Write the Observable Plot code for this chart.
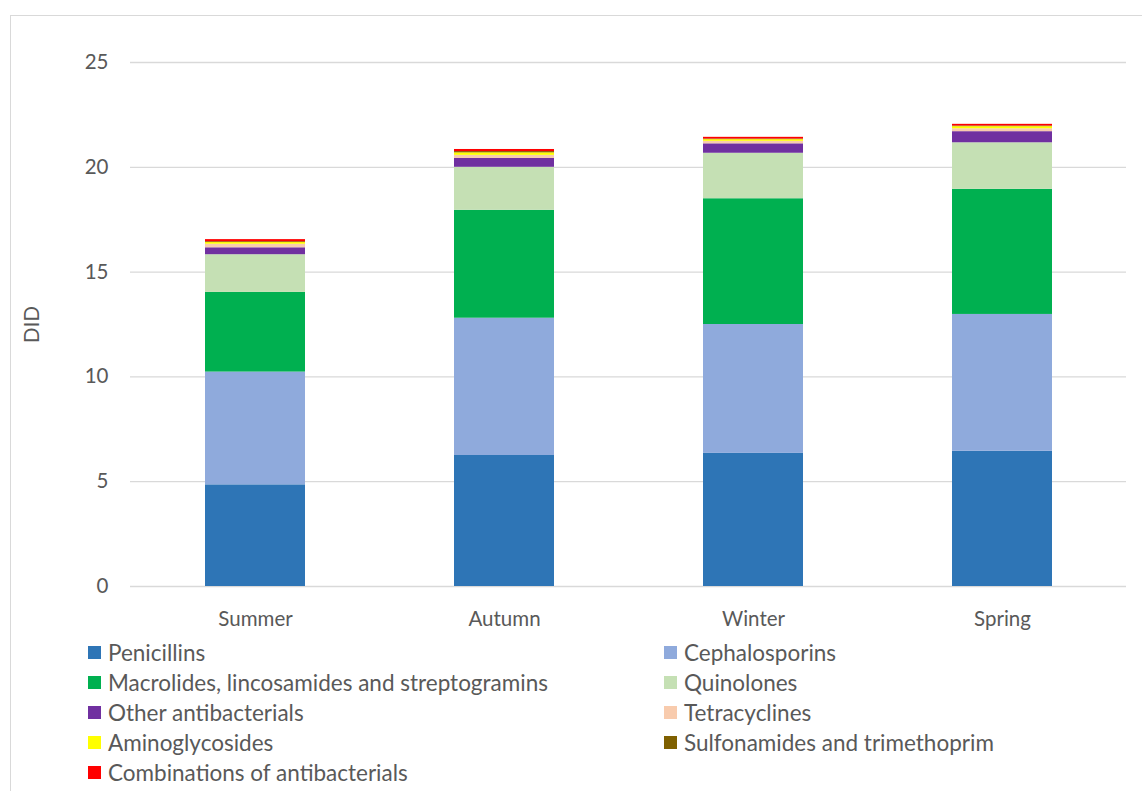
<!DOCTYPE html>
<html>
<head>
<meta charset="utf-8">
<script src="https://cdn.jsdelivr.net/npm/d3@7"></script>
<script src="https://cdn.jsdelivr.net/npm/@observablehq/plot@0.6"></script>
<style>
  html, body { margin: 0; padding: 0; background: #fff; }
  body { width: 1142px; height: 791px; position: relative; overflow: hidden; font-family: Lato, "Open Sans", sans-serif; }
  #frame { position: absolute; left: 10px; top: 15px; width: 1160px; height: 800px; border: 1px solid #d9d9d9; box-sizing: border-box; }
  #chart { position: absolute; left: 0; top: 0; }
  #legend { position: absolute; left: 88px; top: 637px; display: grid; grid-template-columns: 576px 420px; row-gap: 0; }
  .item { display: flex; align-items: center; height: 30px; font-size: 22.5px; color: #595959; white-space: nowrap; }
  .sw { width: 13px; height: 13px; margin-right: 7px; flex: none; }
</style>
</head>
<body>
<div id="frame"></div>
<div id="chart"></div>
<div id="legend"></div>
<script>
const seasons = ["Summer", "Autumn", "Winter", "Spring"];
const classes = [
  "Penicillins",
  "Cephalosporins",
  "Macrolides, lincosamides and streptogramins",
  "Quinolones",
  "Other antibacterials",
  "Tetracyclines",
  "Aminoglycosides",
  "Sulfonamides and trimethoprim",
  "Combinations of antibacterials"
];
const colors = ["#2E75B6", "#8FAADC", "#00B050", "#C5E0B4", "#7030A0", "#F8CBAD", "#FFFF00", "#7F6000", "#FF0000"];

const penicillins     = [4.85, 6.25, 6.35, 6.45];
const cephalosporins  = [5.38, 6.55, 6.15, 6.53];
const macrolides      = [3.80, 5.15, 6.00, 5.97];
const quinolones      = [1.80, 2.05, 2.17, 2.22];
const otherAntibact   = [0.33, 0.42, 0.45, 0.53];
const tetracyclines   = [0.17, 0.15, 0.12, 0.14];
const aminoglycosides = [0.08, 0.12, 0.08, 0.10];
const sulfonamides    = [0.04, 0.06, 0.03, 0.03];
const combinations    = [0.10, 0.10, 0.08, 0.08];
const yTicks = [0, 5, 10, 15, 20, 25];

const series = [penicillins, cephalosporins, macrolides, quinolones, otherAntibact,
                tetracyclines, aminoglycosides, sulfonamides, combinations];
const rows = [];
classes.forEach((c, i) => seasons.forEach((s, j) => rows.push({season: s, cls: c, value: series[i][j]})));

const chart = Plot.plot({
  width: 1142,
  height: 640,
  marginLeft: 130,
  marginRight: 16,
  marginTop: 62,
  marginBottom: 54,
  style: {fontFamily: "Lato, 'Open Sans', sans-serif", fontSize: "20.5px", color: "#595959", background: "transparent"},
  x: {domain: seasons, paddingInner: 0.6, paddingOuter: 0.3, label: null},
  y: {domain: [0, 25], label: null},
  color: {domain: classes, range: colors},
  marks: [
    Plot.ruleY(yTicks, {stroke: "#d9d9d9", strokeWidth: 1.3}),
    Plot.barY(rows, {x: "season", y: "value", fill: "cls"}),
    Plot.axisY(yTicks, {tickSize: 0, tickPadding: 22, label: "DID", labelAnchor: "center", labelArrow: "none", labelOffset: 106, fill: "#595959"}),
    Plot.axisX({tickSize: 0, tickPadding: 25, label: null, fill: "#595959"})
  ]
});
document.getElementById("chart").appendChild(chart);

const legend = document.getElementById("legend");
classes.forEach((c, i) => {
  const d = document.createElement("div");
  d.className = "item";
  const sw = document.createElement("span");
  sw.className = "sw";
  sw.style.background = colors[i];
  d.appendChild(sw);
  d.appendChild(document.createTextNode(c));
  legend.appendChild(d);
});
</script>
</body>
</html>
